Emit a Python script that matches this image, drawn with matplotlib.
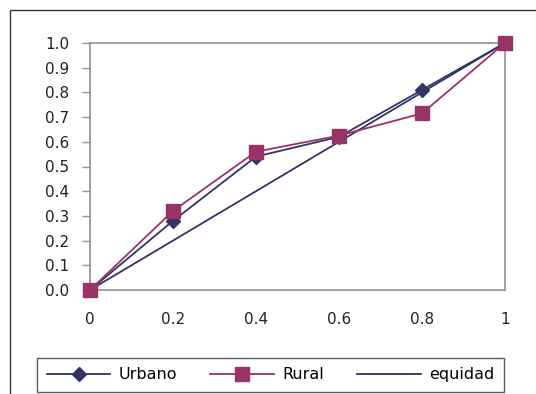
import matplotlib.pyplot as plt
from matplotlib.patches import Rectangle

x = [0, 0.2, 0.4, 0.6, 0.8, 1.0]
urbano = [0.0, 0.28, 0.54, 0.62, 0.81, 1.0]
rural = [0.0, 0.32, 0.56, 0.625, 0.715, 1.0]
equidad_x = [0, 1]
equidad_y = [0, 1]

xticks = [0, 0.2, 0.4, 0.6, 0.8, 1.0]
xlabels = ['0', '0.2', '0.4', '0.6', '0.8', '1']
yticks = [i / 10 for i in range(11)]
ylabels = ['%.1f' % v for v in yticks]

navy = '#333366'
plum = '#993366'
spine = '#9a8e8a'

plt.rcParams['font.family'] = ['DejaVu Sans']

fig = plt.figure(figsize=(5.36, 3.94), dpi=100)
ax = fig.add_axes([90 / 536, 1 - 290 / 394, 415 / 536, 247 / 394])

# outer chart frame (cropped at right and bottom)
fig.patches.append(Rectangle((10 / 536, -0.2), 1.5, 1.2 - 10 / 394,
                             transform=fig.transFigure, fill=False,
                             edgecolor='#333333', linewidth=1.0))

ax.plot(x, urbano, color=navy, marker='D', markersize=7, linewidth=1.3,
        label='Urbano', clip_on=False, zorder=3)
ax.plot(x, rural, color=plum, marker='s', markersize=10, linewidth=1.3,
        label='Rural', clip_on=False, zorder=4)
ax.plot(equidad_x, equidad_y, color=navy, linewidth=1.3, label='equidad',
        clip_on=False, zorder=2)

ax.set_xlim(0, 1)
ax.set_ylim(0, 1)
ax.set_xticks(xticks)
ax.set_xticklabels(xlabels)
ax.set_yticks(yticks)
ax.set_yticklabels(ylabels)
ax.tick_params(axis='x', length=0, pad=16, labelsize=11, labelcolor='#222222')
ax.tick_params(axis='y', length=6, width=1, color=spine, pad=9, labelsize=11,
               labelcolor='#222222')
for s in ax.spines.values():
    s.set_color(spine)
    s.set_linewidth(1.2)

leg = fig.legend(loc='lower left', bbox_to_anchor=(37 / 536, 2 / 394, 467 / 536, 37 / 394),
                 mode='expand', ncol=3, frameon=True, fancybox=False,
                 edgecolor='#333333', fontsize=11.5, handlelength=4.0,
                 borderaxespad=0, handletextpad=0.5, columnspacing=0.8,
                 borderpad=0.6)
leg.get_frame().set_linewidth(1.0)

fig.savefig('out.png', dpi=100)
